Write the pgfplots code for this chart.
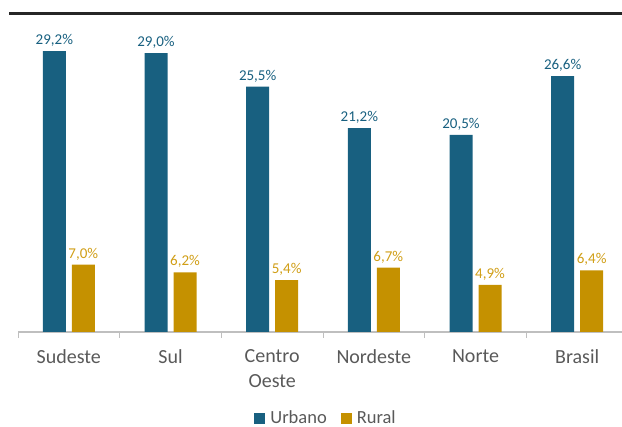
\documentclass[border=0pt]{standalone}
\usepackage{pgfplots}
\pgfplotsset{compat=1.18}
\usepackage{fontspec}
\setmainfont{Carlito}
\definecolor{urb}{RGB}{24,96,128}
\definecolor{rur}{RGB}{197,145,0}
\definecolor{rurlab}{RGB}{208,158,22}
\definecolor{lab}{RGB}{89,89,89}
\definecolor{axl}{RGB}{191,191,191}
\begin{document}
\begin{tikzpicture}[x=1pt,y=1pt]
\useasboundingbox (0,0) rectangle (622,427);
\clip (0,0) rectangle (622,427);
\fill[black!85] (9,411.5) rectangle (622,414.5);
\begin{axis}[
 at={(18pt,95pt)}, anchor=south west,
 scale only axis, width=610pt, height=302pt,
 xmin=-0.5, xmax=5.5, ymin=0, ymax=31.4,
 ybar=6pt, bar width=23pt,
 axis y line=none, axis x line*=bottom,
 x axis line style={axl, line width=1.3pt, -},
 xtick={0,...,5},
 xticklabels={Sudeste,Sul,{Centro\\Oeste},Nordeste,Norte,Brasil},
 major tick length=0pt,
 xticklabel style={align=center, text=lab, font=\fontsize{20}{25}\selectfont, anchor=north, yshift=-14pt},
 extra x ticks={-0.5,0.5,1.5,2.5,3.5,4.5,5.5}, extra x tick labels={},
 extra x tick style={major tick length=6pt, tick align=outside, tick style={axl, line width=1pt}},
 /pgf/number format/.cd, use comma, fixed, fixed zerofill, precision=1, assume math mode=true,
 /pgfplots/.cd,
 nodes near coords={\pgfmathprintnumber{\pgfplotspointmeta}\%},
 every node near coord/.append style={font=\fontsize{15}{18}\selectfont, yshift=1pt},
 legend columns=2,
 legend style={at={(0.505,-0.285)}, anchor=center, draw=none, fill=none,
   font=\fontsize{18.5}{21}\selectfont, text=lab,
   /tikz/every odd column/.append style={column sep=3pt},
   /tikz/every even column/.append style={column sep=12pt}},
 legend image code/.code={\fill[#1] (0pt,-5.5pt) rectangle (11pt,5.5pt);},
]
\addplot[fill=urb, draw=none, every node near coord/.append style={text=urb}]
  coordinates {(0,29.2) (1,29.0) (2,25.5) (3,21.2) (4,20.5) (5,26.6)};
\addplot[fill=rur, draw=none, every node near coord/.append style={text=rurlab}]
  coordinates {(0,7.0) (1,6.2) (2,5.4) (3,6.7) (4,4.9) (5,6.4)};
\legend{Urbano, Rural}
\end{axis}
\end{tikzpicture}
\end{document}
